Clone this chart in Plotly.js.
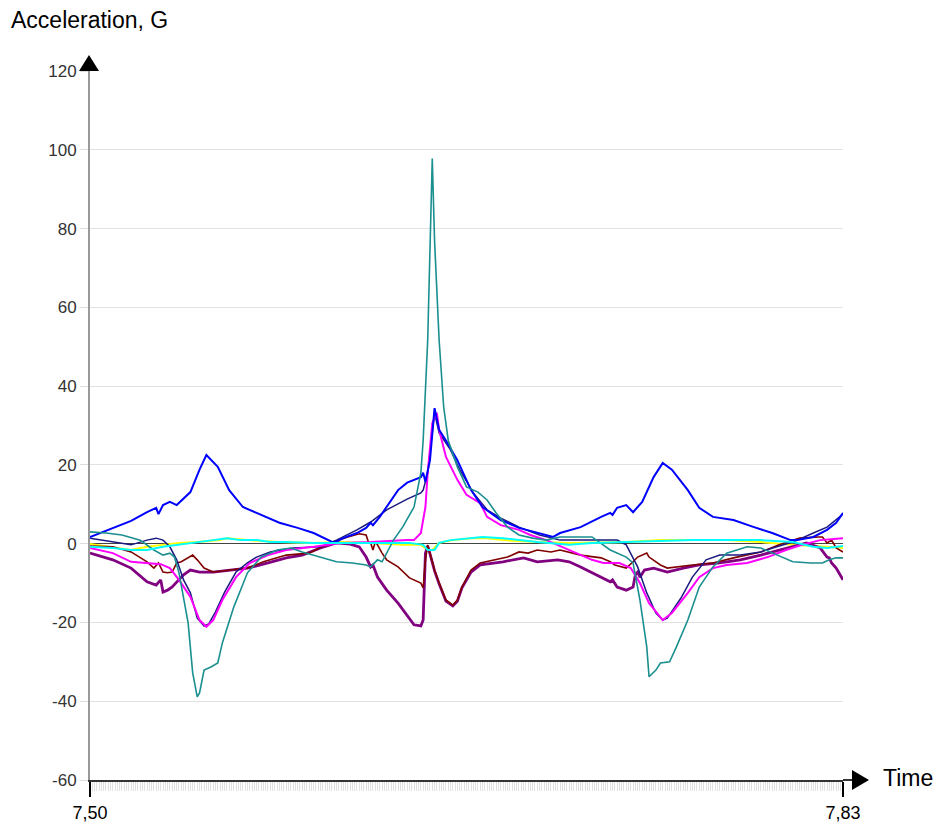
<!DOCTYPE html>
<html>
<head>
<meta charset="utf-8">
<script src="https://cdn.plot.ly/plotly-3.0.1.min.js"></script>
<style>html,body{margin:0;padding:0;background:#fff}#chart{width:936px;height:827px}</style>
</head>
<body>
<div id="chart"></div>
<script>
// ---- Data (time in s, acceleration in G) ----
var xTickVals = [7.50, 7.83];
var xTickText = ['7,50', '7,83'];
var yTickVals = [-60, -40, -20, 0, 20, 40, 60, 80, 100, 120];
var yTickText = ['-60', '-40', '-20', '0', '20', '40', '60', '80', '100', '120'];

var blueT = [7.500,7.510,7.518,7.525,7.529,7.530,7.532,7.535,7.538,7.544,7.548,7.551,7.556,7.561,7.567,7.573,7.583,7.591,7.598,7.607,7.611,7.617,7.621,7.623,7.624,7.627,7.631,7.635,7.639,7.645,7.646,7.647,7.649,7.651,7.653,7.656,7.661,7.667,7.672,7.680,7.688,7.697,7.703,7.706,7.715,7.724,7.728,7.729,7.731,7.735,7.738,7.742,7.747,7.751,7.755,7.762,7.767,7.773,7.782,7.791,7.799,7.807,7.810,7.817,7.823,7.827,7.830];
var blueV = [1.7,4.0,5.8,8.0,9.1,7.5,9.8,10.6,9.8,13.1,18.8,22.5,19.5,13.6,9.3,7.8,5.3,4.0,2.7,0.2,1.4,2.7,4.0,5.3,4.7,6.8,10.3,13.6,15.5,16.9,18.0,15.7,21.2,34.4,28.9,26.2,21.2,13.6,9.3,6.0,4.0,2.7,1.7,2.7,4.2,6.8,7.8,7.3,9.1,9.8,8.0,10.6,16.9,20.5,18.8,13.6,9.1,6.8,6.0,4.2,2.7,0.9,0.9,1.7,3.5,5.3,7.8];

var navyT = [7.500,7.510,7.518,7.525,7.529,7.532,7.535,7.538,7.541,7.544,7.547,7.550,7.552,7.555,7.559,7.564,7.569,7.573,7.579,7.589,7.601,7.608,7.617,7.623,7.630,7.639,7.645,7.646,7.648,7.651,7.653,7.658,7.662,7.668,7.674,7.680,7.688,7.697,7.706,7.720,7.731,7.735,7.740,7.744,7.748,7.751,7.753,7.759,7.764,7.770,7.776,7.785,7.794,7.801,7.808,7.817,7.823,7.830];
var navyV = [1.4,0.4,-0.3,0.9,1.4,0.9,-0.8,-4.1,-9.2,-12.5,-18.9,-20.9,-20.4,-17.3,-12.3,-7.2,-4.9,-3.4,-2.1,-1.1,-0.8,0.9,3.5,5.5,8.6,11.3,12.9,13.6,18.0,33.2,28.1,23.8,18.8,12.9,8.6,6.5,4.2,2.2,0.9,0.9,0.9,-0.3,-5.9,-12.5,-17.6,-19.4,-18.9,-13.8,-8.5,-4.1,-2.9,-2.9,-2.1,-0.8,0.4,2.7,4.2,7.5];

var tealT = [7.500,7.507,7.514,7.522,7.528,7.532,7.535,7.537,7.539,7.543,7.545,7.547,7.548,7.550,7.553,7.556,7.558,7.563,7.569,7.575,7.582,7.588,7.593,7.601,7.608,7.615,7.621,7.623,7.626,7.628,7.633,7.637,7.642,7.645,7.646,7.648,7.649,7.650,7.651,7.652,7.653,7.655,7.657,7.661,7.665,7.670,7.674,7.678,7.683,7.688,7.694,7.700,7.706,7.720,7.728,7.735,7.738,7.741,7.744,7.745,7.748,7.750,7.754,7.757,7.762,7.767,7.773,7.779,7.788,7.794,7.801,7.808,7.816,7.821,7.824,7.827,7.830];
var tealV = [3.0,2.7,2.2,0.9,-1.6,-2.9,-2.4,-3.4,-7.4,-20.1,-32.8,-38.9,-37.9,-32.1,-31.3,-30.3,-25.2,-16.1,-7.4,-3.4,-1.6,-1.1,-2.1,-3.4,-4.6,-4.9,-5.4,-5.9,-4.1,-4.6,0.9,4.2,9.3,18.0,26.2,51.7,77.0,97.8,77.0,64.4,51.7,34.7,26.2,19.5,14.4,13.1,11.1,7.8,4.2,2.2,1.4,0.9,1.7,1.7,-1.6,-3.4,-4.9,-14.3,-26.2,-33.8,-32.1,-30.3,-30.0,-26.2,-19.4,-11.0,-5.9,-2.4,-0.8,-1.1,-2.9,-4.6,-4.9,-4.9,-4.1,-3.6,-3.6];

var magentaT = [7.500,7.510,7.518,7.525,7.531,7.535,7.539,7.544,7.548,7.551,7.554,7.558,7.564,7.570,7.578,7.586,7.598,7.610,7.623,7.639,7.642,7.645,7.647,7.648,7.650,7.652,7.653,7.656,7.661,7.665,7.671,7.674,7.680,7.688,7.693,7.700,7.706,7.715,7.720,7.725,7.732,7.737,7.741,7.745,7.750,7.751,7.755,7.762,7.767,7.773,7.779,7.788,7.797,7.805,7.812,7.820,7.826,7.830];
var magentaV = [-1.1,-2.4,-4.6,-4.9,-5.2,-6.2,-9.2,-13.5,-19.4,-21.1,-19.4,-14.3,-8.5,-4.9,-2.9,-1.6,-0.8,0.2,0.4,0.9,0.9,2.7,9.3,18.0,30.6,33.2,28.9,22.0,16.2,12.4,10.3,6.8,4.7,3.5,2.2,0.9,-0.6,-2.9,-4.1,-4.9,-4.9,-6.2,-10.0,-15.1,-18.9,-19.4,-17.6,-12.5,-8.5,-6.2,-5.4,-4.9,-3.4,-1.6,-0.3,0.9,1.2,1.4];

var brownT = [7.500,7.510,7.518,7.525,7.528,7.530,7.532,7.534,7.536,7.538,7.540,7.543,7.545,7.547,7.550,7.554,7.561,7.569,7.576,7.586,7.596,7.605,7.613,7.618,7.621,7.622,7.623,7.624,7.625,7.626,7.628,7.630,7.635,7.640,7.645,7.646,7.647,7.648,7.649,7.651,7.653,7.656,7.659,7.661,7.663,7.667,7.671,7.677,7.683,7.688,7.692,7.696,7.702,7.706,7.715,7.724,7.728,7.730,7.735,7.738,7.740,7.744,7.745,7.750,7.753,7.764,7.773,7.782,7.794,7.802,7.811,7.819,7.821,7.823,7.825,7.827,7.830];
var brownV = [-0.6,-0.8,-2.1,-4.6,-6.2,-4.9,-7.2,-7.4,-7.2,-4.9,-4.6,-3.6,-2.9,-4.1,-6.2,-7.2,-6.7,-6.2,-4.6,-2.9,-2.4,0.2,1.7,2.5,2.2,0.4,0.2,-1.6,0.4,-0.3,-2.4,-4.1,-5.9,-8.7,-10.0,-11.2,-4.1,-0.3,-2.4,-6.7,-10.0,-14.3,-15.6,-14.3,-11.0,-6.7,-4.9,-4.1,-3.4,-2.1,-2.4,-1.6,-2.1,-1.6,-2.9,-3.6,-4.6,-5.4,-6.2,-4.6,-3.4,-2.4,-3.4,-5.4,-6.2,-5.4,-4.9,-3.6,-2.1,-0.3,1.4,1.7,1.7,0.2,0.9,-1.1,-2.1];

var purpleT = [7.500,7.510,7.518,7.525,7.529,7.531,7.532,7.534,7.536,7.539,7.541,7.544,7.548,7.554,7.561,7.569,7.578,7.586,7.593,7.601,7.608,7.614,7.618,7.621,7.623,7.624,7.626,7.630,7.635,7.639,7.642,7.645,7.646,7.647,7.648,7.649,7.651,7.653,7.656,7.659,7.661,7.663,7.667,7.671,7.681,7.690,7.696,7.705,7.710,7.715,7.720,7.728,7.729,7.731,7.735,7.738,7.739,7.740,7.741,7.743,7.747,7.753,7.760,7.767,7.776,7.785,7.794,7.802,7.810,7.814,7.820,7.823,7.824,7.825,7.827,7.830];
var purpleV = [-2.4,-4.1,-6.2,-9.7,-10.5,-9.2,-12.3,-11.8,-11.0,-9.2,-7.9,-6.7,-7.2,-7.2,-6.7,-6.2,-4.9,-3.6,-2.9,-1.1,0.2,-0.1,-0.8,-3.4,-5.9,-5.4,-8.5,-11.8,-15.1,-18.1,-20.6,-20.9,-19.4,-2.4,-0.6,-2.6,-6.9,-10.2,-14.6,-15.8,-14.6,-11.2,-7.2,-5.4,-4.6,-3.6,-4.6,-4.1,-4.6,-5.9,-7.4,-9.7,-9.2,-11.0,-11.8,-11.0,-7.9,-7.2,-8.5,-6.7,-6.2,-7.2,-6.2,-5.4,-4.9,-4.1,-2.9,-1.6,-0.3,0.2,-1.1,-3.4,-3.6,-4.9,-6.2,-9.2];

var yellowT = [7.500,7.518,7.525,7.532,7.539,7.547,7.557,7.560,7.569,7.583,7.598,7.610,7.623,7.637,7.645,7.648,7.650,7.653,7.659,7.667,7.674,7.681,7.696,7.710,7.735,7.750,7.779,7.794,7.808,7.823,7.830];
var yellowV = [-0.1,-1.6,-0.8,-0.3,0.2,0.4,0.9,1.4,0.9,0.4,0.2,0.4,0.2,-0.3,-0.3,-1.6,-1.6,0.2,0.9,1.4,1.4,0.9,0.4,0.2,0.4,0.9,0.9,0.4,-0.3,-0.8,-1.1];

var cyanT = [7.500,7.510,7.518,7.525,7.532,7.539,7.547,7.554,7.560,7.566,7.573,7.579,7.586,7.598,7.610,7.623,7.640,7.646,7.648,7.651,7.653,7.658,7.667,7.672,7.681,7.696,7.710,7.720,7.735,7.750,7.764,7.794,7.808,7.817,7.823,7.830];
var cyanV = [-0.8,-1.1,-1.6,-1.6,-0.8,-0.3,0.4,0.9,1.4,0.9,0.9,0.4,0.4,0.2,0.2,0.2,0.2,-0.3,-1.6,-1.6,0.2,0.9,1.4,1.7,1.4,0.4,-0.3,0.2,0.4,0.7,0.9,0.9,0.4,-0.8,-1.1,-0.6];

function tr(x, y, color, width) {
  return {x: x, y: y, type: 'scatter', mode: 'lines', line: {color: color, width: width}, hoverinfo: 'skip', showlegend: false};
}

var traces = [
  tr(yellowT, yellowV, '#ffff00', 2),
  tr(purpleT, purpleV, '#800080', 2.8),
  tr(brownT, brownV, '#800000', 1.6),
  tr(navyT, navyV, '#1a1a80', 1.5),
  tr(magentaT, magentaV, '#ff00ff', 2),
  tr(blueT, blueV, '#0000ff', 2),
  tr(tealT, tealV, '#1a8f8f', 1.6),
  tr(cyanT, cyanV, '#00ffff', 2)
];

var layout = {
  width: 936, height: 827,
  margin: {l: 90, r: 93, t: 71, b: 47},
  paper_bgcolor: '#fff', plot_bgcolor: '#fff',
  font: {family: 'Liberation Sans, Arial, sans-serif'},
  showlegend: false,
  xaxis: {
    range: [7.5, 7.83],
    tickmode: 'array', tickvals: xTickVals, ticktext: xTickText,
    ticks: 'outside', ticklen: 15, tickwidth: 2, tickcolor: '#000',
    tickfont: {size: 18, color: '#000'},
    showgrid: false, zeroline: false,
    showline: true, linecolor: '#333', linewidth: 2,
    minor: {tickmode: 'linear', tick0: 7.5, dtick: 0.001, ticks: 'outside', ticklen: 9, tickwidth: 1, tickcolor: '#e0e0e0', showgrid: false}
  },
  yaxis: {
    range: [-60, 120],
    tickmode: 'array', tickvals: yTickVals, ticktext: yTickText,
    ticks: 'outside', ticklen: 8, tickcolor: '#ddd',
    tickfont: {size: 17, color: '#333'},
    gridcolor: '#e2e2e2', gridwidth: 1,
    zeroline: true, zerolinecolor: '#444', zerolinewidth: 1.5,
    showline: true, linecolor: '#999', linewidth: 2
  },
  annotations: [
    {text: 'Acceleration, G', xref: 'paper', yref: 'paper', x: -0.1075, y: 1.0719, xanchor: 'left', yanchor: 'middle', showarrow: false, font: {size: 23, color: '#000'}},
    {text: 'Time', xref: 'paper', yref: 'paper', x: 1.051, y: 0.003, xanchor: 'left', yanchor: 'middle', showarrow: false, font: {size: 23, color: '#000'}}
  ],
  shapes: [
    {type: 'path', xref: 'paper', yref: 'paper', xsizemode: 'pixel', ysizemode: 'pixel', xanchor: 0, yanchor: 1,
     path: 'M -11,0 L 9,0 L -1,16 Z', fillcolor: '#000', line: {width: 0}},
    {type: 'path', xref: 'paper', yref: 'paper', xsizemode: 'pixel', ysizemode: 'pixel', xanchor: 1, yanchor: 0,
     path: 'M 0,0 L 10,0', line: {color: '#333', width: 2}},
    {type: 'path', xref: 'paper', yref: 'paper', xsizemode: 'pixel', ysizemode: 'pixel', xanchor: 1, yanchor: 0,
     path: 'M 9,-10 L 9,10 L 26,0 Z', fillcolor: '#000', line: {width: 0}}
  ]
};

Plotly.newPlot('chart', traces, layout, {displayModeBar: false, staticPlot: true});
</script>
</body>
</html>
